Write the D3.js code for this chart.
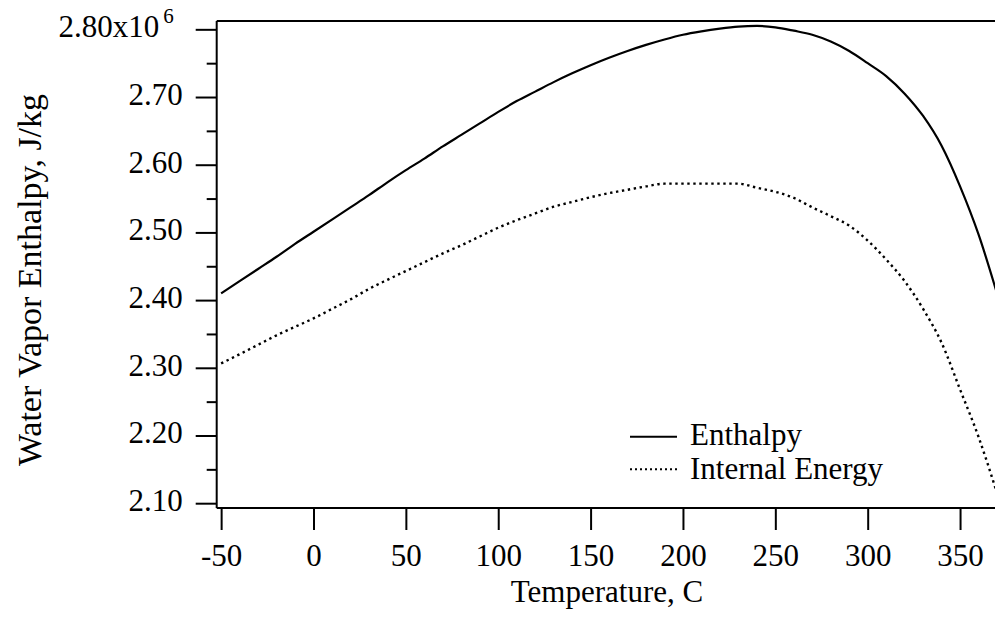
<!DOCTYPE html>
<html>
<head>
<meta charset="utf-8">
<script src="https://cdn.jsdelivr.net/npm/d3@7"></script>
<style>
  html, body { margin: 0; padding: 0; background: #fff; }
  svg { display: block; }
  text { font-family: "Liberation Serif", "Times New Roman", Times, serif; fill: #000; }
</style>
</head>
<body>
<svg id="chart" width="995" height="618"></svg>
<script>
// ---- data (temperature in C, energies in J/kg) ----
const temperatures = [-50,-40,-30,-20,-10,0,10,20,30,40,50,60,70,80,90,100,110,120,130,140,150,160,170,180,190,200,210,220,230,240,250,260,270,280,290,300,310,320,330,340,350,360,370];
const enthalpy = [2.410,2.428,2.446,2.464,2.483,2.501,2.519,2.537,2.555,2.574,2.592,2.609,2.627,2.644,2.661,2.678,2.694,2.708,2.722,2.735,2.747,2.758,2.768,2.777,2.785,2.792,2.797,2.801,2.804,2.805,2.803,2.798,2.792,2.782,2.768,2.750,2.731,2.705,2.672,2.628,2.568,2.497,2.410].map(v => v * 1e6);
const internalEnergy = [2.3065,2.320,2.334,2.348,2.3605,2.373,2.387,2.401,2.4165,2.430,2.443,2.456,2.469,2.481,2.494,2.507,2.518,2.528,2.538,2.545,2.552,2.558,2.563,2.568,2.572,2.572,2.572,2.572,2.572,2.566,2.560,2.551,2.537,2.524,2.510,2.488,2.460,2.428,2.387,2.337,2.268,2.198,2.115].map(v => v * 1e6);
const xTicks = [-50,0,50,100,150,200,250,300,350];
const yTicks = [2.10e6,2.20e6,2.30e6,2.40e6,2.50e6,2.60e6,2.70e6,2.80e6];
const yMinorTicks = [2.15e6,2.25e6,2.35e6,2.45e6,2.55e6,2.65e6,2.75e6];
const seriesNames = ["Enthalpy", "Internal Energy"];
const xTitle = "Temperature, C";
const yTitle = "Water Vapor Enthalpy, J/kg";

// ---- layout ----
const L = 216.7, R = 997, T = 21, B = 508;
const FS = 31;

const svg = d3.select("#chart");
const x = d3.scaleLinear().domain([-52.4, 370]).range([L, R]);
const y = d3.scaleLinear().domain([2.0929e6, 2.8123e6]).range([B, T]);

svg.append("defs").append("clipPath").attr("id", "plotclip")
  .append("rect").attr("x", L).attr("y", T - 2).attr("width", R - L).attr("height", B - T + 2);

// frame (top + right; left/bottom drawn by axes)
svg.append("path")
  .attr("d", `M${L},${T}H${R}V${B}`)
  .attr("fill", "none").attr("stroke", "#000").attr("stroke-width", 2);

// curves
const line = d3.line().x((d, i) => x(temperatures[i])).y(d => y(d)).curve(d3.curveMonotoneX);
const g = svg.append("g").attr("clip-path", "url(#plotclip)");
g.append("path").datum(enthalpy).attr("d", line)
  .attr("fill", "none").attr("stroke", "#000").attr("stroke-width", 2.2);
g.append("path").datum(internalEnergy).attr("d", line)
  .attr("fill", "none").attr("stroke", "#000").attr("stroke-width", 2.4)
  .attr("stroke-dasharray", "2.4,3.6");

const hyphenFmt = d => String(d).replace("\u2212", "-");

// x axis
const xAxis = svg.append("g").attr("transform", `translate(0,${B})`)
  .call(d3.axisBottom(x).tickValues(xTicks).tickSize(22).tickSizeOuter(0).tickPadding(14)
    .tickFormat(d => hyphenFmt(d)));
xAxis.selectAll("path.domain").attr("stroke-width", 2).attr("d", `M${L},0H${R}`);
xAxis.selectAll(".tick line").attr("stroke-width", 2);
xAxis.selectAll("text").attr("font-size", FS).attr("font-family", "Liberation Serif").attr("fill", "#000");

// y axis minor ticks
const yMinor = svg.append("g").attr("transform", `translate(${L},0)`)
  .call(d3.axisLeft(y).tickValues(yMinorTicks).tickSize(10).tickSizeOuter(0).tickFormat(""));
yMinor.select("path.domain").remove();
yMinor.selectAll(".tick line").attr("stroke-width", 2);

// y axis major
const yAxis = svg.append("g").attr("transform", `translate(${L},0)`)
  .call(d3.axisLeft(y).tickValues(yTicks).tickSize(21).tickSizeOuter(0).tickPadding(13)
    .tickFormat(d => d3.format(".2f")(d / 1e6)));
yAxis.select("path.domain").attr("stroke-width", 2).attr("d", `M0,${T}V${B}`);
yAxis.selectAll(".tick line").attr("stroke-width", 2);
yAxis.selectAll("text").attr("font-size", FS).attr("font-family", "Liberation Serif").attr("fill", "#000")
  .attr("dy", "0.24em");
// top label gets the exponent
yAxis.selectAll(".tick").filter(d => d === 2.80e6).select("text")
  .attr("x", -43)
  .text(d => d3.format(".2f")(d / 1e6) + "x10")
  .append("tspan").attr("font-size", 21).attr("dx", 4).attr("dy", -14).text("6");

// axis titles
svg.append("text").attr("x", 607).attr("y", 602)
  .attr("text-anchor", "middle").attr("font-size", FS).text(xTitle);
svg.append("text").attr("transform", "translate(41,280) rotate(-90)")
  .attr("text-anchor", "middle").attr("font-size", 34).text(yTitle);

// legend
const legend = svg.append("g");
const legendRows = [{name: seriesNames[0], dash: null, ly: 436.7, ty: 445},
                    {name: seriesNames[1], dash: "2,3", ly: 469.3, ty: 479}];
legendRows.forEach(r => {
  legend.append("line").attr("x1", 630).attr("x2", 677).attr("y1", r.ly).attr("y2", r.ly)
    .attr("stroke", "#000").attr("stroke-width", 2).attr("stroke-dasharray", r.dash);
  legend.append("text").attr("x", 690).attr("y", r.ty).attr("font-size", FS).text(r.name);
});
</script>
</body>
</html>
